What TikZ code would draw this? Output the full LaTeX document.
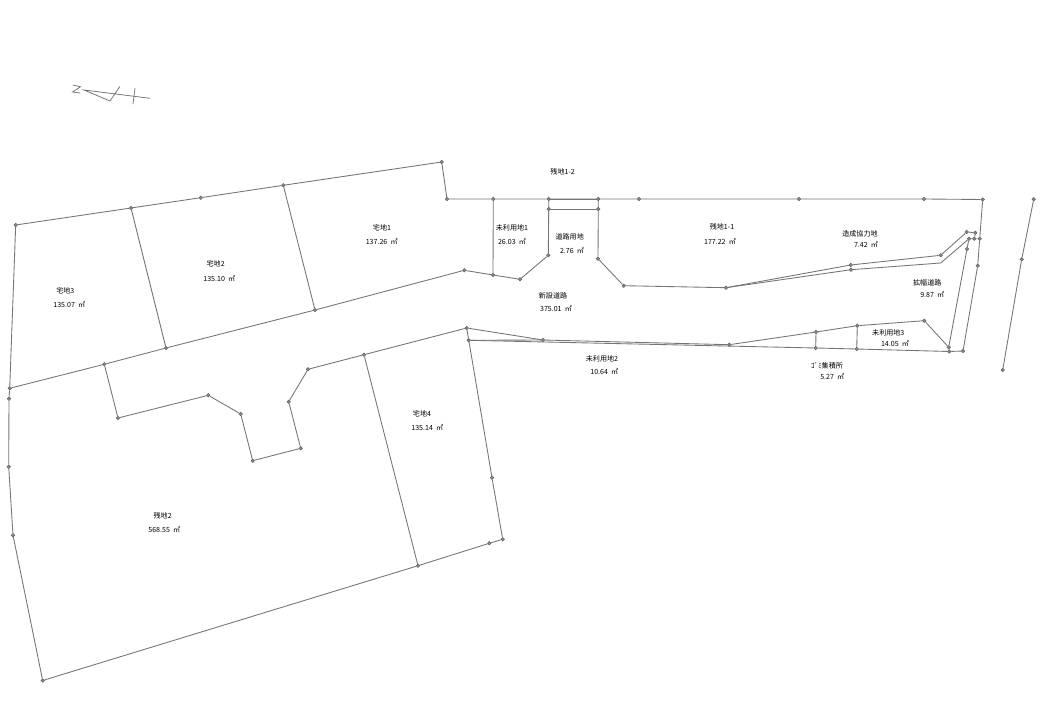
\documentclass[tikz,border=0pt]{standalone}
\usepackage{fontspec}
\setmainfont{Noto Sans CJK JP}
\newcommand{\areaval}[1]{#1\hspace{.45em}㎡}
\tikzset{
  pt/.style={circle,draw=dotline,fill=dotfill,line width=.4pt,inner sep=0pt,minimum size=2.6pt},
  lbl/.style={inner sep=0pt,font=\fontsize{5.3pt}{6pt}\selectfont,text=black},
  bnd/.style={draw=bline,line width=.65pt,line join=round},
  nth/.style={draw=cline,line width=.55pt,line cap=round}
}
\definecolor{dotline}{HTML}{606060}
\definecolor{dotfill}{HTML}{8C8C8C}
\definecolor{bline}{HTML}{757575}
\definecolor{cline}{HTML}{707070}
\begin{document}
\begin{tikzpicture}[x=.75pt,y=-.75pt]
\useasboundingbox[fill=white] (0,0) rectangle (1040,720);
% north mark
\coordinate (z1) at (73,85); \coordinate (z2) at (80.5,86.8); \coordinate (z3) at (72.5,92); \coordinate (z4) at (80,93);
\coordinate (n1) at (84,90); \coordinate (n2) at (150,98.3); \coordinate (n3) at (110,101); \coordinate (n4) at (119.7,86.7);
\coordinate (n5) at (135,88.3); \coordinate (n6) at (133,104);
\draw[nth] (z1)--(z2)--(z3)--(z4);
\draw[nth] (n2)--(n1)--(n3)--(n4);
\draw[nth] (n5)--(n6);
% points
\foreach \n/\x/\y in {
a1/15.7/225,a2/131/208,a3/200.7/197.7,a4/283.3/185.3,a5/441.7/162,a6/447/199,a7/493.3/199,a8/548.7/199,a9/598.3/199,a10/639/199,a11/799/199,a12/924/199,a13/982.7/199.5,
b1/9.7/388.3,b2/9/398.7,b3/8.7/466.7,b4/13/535.3,b5/42.7/680.5,b6/418/565.7,b7/489.3/543.3,b8/502.7/539.3,b9/492/477.7,b10/466.7/328,
c1/364/354.7,c2/308/369.3,c3/288.7/401.7,c4/300.7/448.3,c5/252.7/460.7,c6/240.7/414,c7/208.3/395.3,c8/118/418,c9/104.3/364.3,
d1/166/348,d2/315/310,d3/464.3/270.3,d4/493/275,d5/520/279.3,d6/548.3/255.3,d7/548.7/209,d8/598.3/209,d9/598/258.7,d10/623.7/285.7,d11/726/287.7,
e1/850.7/265,e2/940.7/255.3,e3/966.7/232,e4/975.3/232.7,e5/969/238.7,e6/974.3/238.7,e7/979.7/238.7,e8/851/269.7,e9/967/249,e10/977.7/265.7,e11/963/351,
f1/468.7/340.3,f2/543/340,f3/729.3/344.7,f4/816/332,f5/857.3/325.7,f6/924.3/320.7,f7/948.7/347.3,f8/949.3/351.5,f9/815.7/348,f10/856.7/349,
g1/1033.7/199.3,g2/1021.7/259.3,g3/1002.7/370}
  {\node[pt] (\n) at (\x,\y) {};}
\coordinate (e0) at (940.7,263);
\coordinate (h1) at (548.7,199.8); \coordinate (h2) at (598.3,199.8);
\coordinate (h3) at (548.7,209.8); \coordinate (h4) at (598.3,209.8);
% boundaries
\draw[bnd] (a1)--(a2)--(a3)--(a4)--(a5)--(a6)--(a7)--(a8)--(a9)--(a10)--(a11)--(a12)--(a13)--(e7)--(e10)--(e11)--(f8);
\draw[bnd] (a1)--(b1)--(b2)--(b3)--(b4)--(b5)--(b6)--(b7)--(b8)--(b9)--(b10)--(c1)--(c2)--(c3)--(c4)--(c5)--(c6)--(c7)--(c8)--(c9);
\draw[bnd] (b1)--(c9)--(d1)--(d2)--(d3)--(d4)--(d5)--(d6)--(d7)--(a8);
\draw[bnd] (a2)--(d1);
\draw[bnd] (a4)--(d2);
\draw[bnd] (c1)--(b6);
\draw[bnd] (a7)--(d4);
\draw[bnd] (d7)--(d8);
\draw[bnd] (h1)--(h2);
\draw[bnd] (h3)--(h4);
\draw[bnd] (a9)--(d8)--(d9)--(d10)--(d11)--(e1)--(e2)--(e3)--(e4)--(e6);
\draw[bnd] (d11)--(e8)--(e0)--(e5)--(e6)--(e7);
\draw[bnd] (e5)--(e9)--(f7);
\draw[bnd] (b10)--(f2)--(f3)--(f4)--(f5)--(f6)--(f7)--(f8);
\draw[bnd] (f1)--(f2);
\draw[bnd] (f1)--(f9)--(f10)--(f8);
\draw[bnd] (f4)--(f9);
\draw[bnd] (f5)--(f10);
\draw[bnd] (g1)--(g2)--(g3);
% labels
\foreach \n/\x/\y/\t in {
l1/562.7/172/残地1-2,
l2/512/227.7/未利用地1,
l3/569.7/237/道路用地,
l4/553/295.7/新設道路,
l5/722/227/残地1-1,
l6/860/233.7/造成協力地,
l7/927.3/283/拡幅道路,
l8/888.3/332.7/未利用地3,
l9/827/365.3/ｺﾞﾐ集積所,
l10/602/359/未利用地2,
l11/65.3/290.7/宅地3,
l12/162.7/516/残地2,
l13/422/413.7/宅地4,
l14/382/227.7/宅地1,
l15/215.7/263.7/宅地2}
  {\node[lbl] (\n) at (\x,\y) {\t};}
\foreach \n/\x/\y/\t in {
v2/512/241/26.03,
v3/572/250/2.76,
v4/556/308.7/375.01,
v5/720/241/177.22,
v6/866/244.7/7.42,
v7/932.3/294/9.87,
v8/895/343.7/14.05,
v9/832.3/376/5.27,
v10/604.3/371/10.64,
v11/69.3/304.3/135.07,
v12/164.3/529/568.55,
v13/427.3/427.3/135.14,
v14/381.7/241.7/137.26,
v15/219.3/278/135.10}
  {\node[lbl] (\n) at (\x,\y) {\areaval{\t}};}
\end{tikzpicture}
\end{document}
